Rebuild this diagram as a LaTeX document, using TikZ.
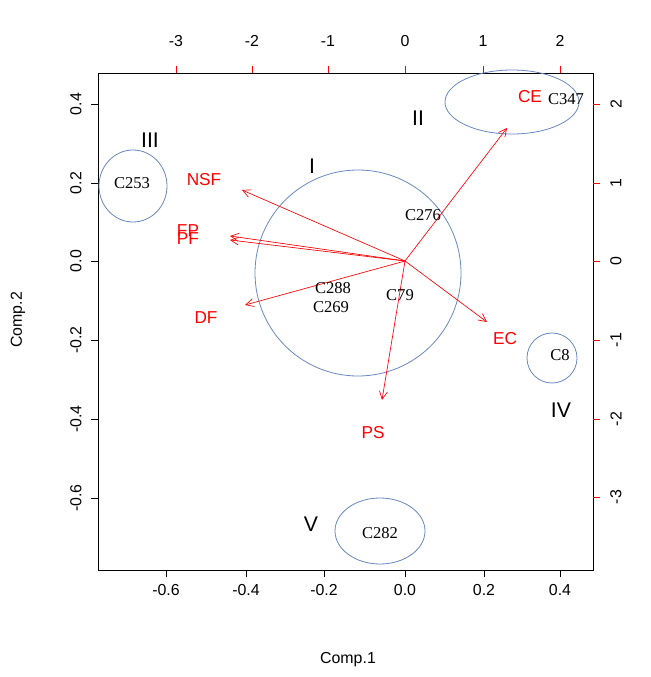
\documentclass[tikz,border=0pt]{standalone}
\usepackage{fontspec}
\setmainfont{Liberation Sans}
\newfontfamily\obsfont{Liberation Serif}
\usetikzlibrary{arrows.meta}
\definecolor{grpc}{RGB}{105,135,195}
\begin{document}
\begin{tikzpicture}[x=0.0265cm,y=-0.0265cm,
  vec/.style={red,-{Straight Barb[length=6pt,width=6pt]},line width=0.5pt},
  vlab/.style={red,font=\fontsize{13}{13}\selectfont,inner sep=0pt},
  obs/.style={font=\obsfont\fontsize{12.5}{12.5}\selectfont,inner sep=0pt},
  grp/.style={draw=grpc,line width=0.6pt},
  rom/.style={font=\fontsize{16}{16}\selectfont,inner sep=0pt},
  tl/.style={font=\fontsize{12}{12}\selectfont,inner sep=0pt}]
\useasboundingbox (0,0) rectangle (650,677);
\draw[line width=0.6pt] (98,73) rectangle (593,570);
% bottom axis
\foreach \v/\x in {-0.6/166,-0.4/246,-0.2/324,0.0/405,0.2/484,0.4/560}{
  \draw (\x,570) -- (\x,577); \node[tl] at (\x,590) {\v};}
% left axis
\foreach \v/\y in {0.4/104,0.2/183,0.0/261,-0.2/340,-0.4/419,-0.6/498}{
  \draw (98,\y) -- (91,\y); \node[tl,rotate=90] at (76,\y) {\v};}
% top axis
\foreach \v/\x in {-3/176,-2/252,-1/328,0/405,1/483,2/560}{
  \draw[red] (\x,73) -- (\x,66); \node[tl] at (\x,41) {\v};}
% right axis
\foreach \v/\y in {2/104,1/183,0/261,-1/340,-2/419,-3/497}{
  \draw[red] (593,\y) -- (600,\y); \node[tl,rotate=90] at (616,\y) {\v};}
\node[tl] at (348,660) {Comp.1};
\node[tl,rotate=90] at (18,320) {Comp.2};
% groups
\draw[grp] (512,102) ellipse [x radius=67,y radius=32];
\draw[grp] (133,186) ellipse [x radius=34,y radius=36];
\draw[grp] (358,273) circle [radius=103];
\draw[grp] (552,358) ellipse [x radius=25,y radius=25];
\draw[grp] (380,531) ellipse [x radius=45,y radius=33];
\node[rom] at (418,118) {II};
\node[rom] at (150,140) {III};
\node[rom] at (312,166) {I};
\node[rom] at (561,410) {IV};
\node[rom] at (311,524) {V};
% vectors
\coordinate (o) at (405,261);
\coordinate (ce) at (507,128);
\coordinate (nsf) at (242,190);
\coordinate (fp) at (230,236);
\coordinate (pf) at (230,240);
\coordinate (df) at (245,305);
\coordinate (ec) at (487,322);
\coordinate (ps) at (382,400);
\foreach \t in {ce,nsf,fp,pf,df,ec,ps}{\draw[vec] (o) -- (\t);}
\node[vlab] at (530,97) {CE};
\node[vlab] at (204,180) {NSF};
\node[vlab] at (188,231) {FP};
\node[vlab] at (188,239) {PF};
\node[vlab] at (206,318) {DF};
\node[vlab] at (505,339) {EC};
\node[vlab] at (373,433) {PS};
% observations
\node[obs] at (566,99) {C347};
\node[obs] at (132,183) {C253};
\node[obs] at (423,215) {C276};
\node[obs] at (333,288) {C288};
\node[obs] at (331,307) {C269};
\node[obs] at (400,295) {C79};
\node[obs] at (560,355) {C8};
\node[obs] at (380,533) {C282};
\end{tikzpicture}
\end{document}
